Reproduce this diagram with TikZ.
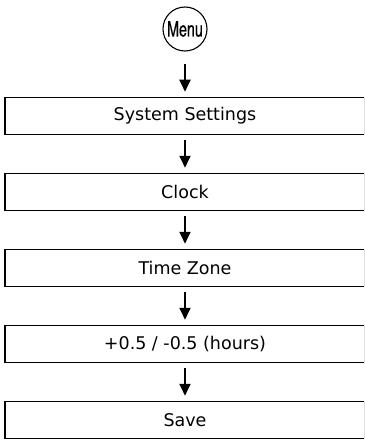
\documentclass[tikz,border=0pt]{standalone}
\usepackage{fontspec}
\setmainfont{DejaVu Sans}
\newfontfamily\menufont[FakeStretch=0.68,FakeBold=0.6]{TeX Gyre Heros}
\usetikzlibrary{arrows.meta}
\begin{document}
\begin{tikzpicture}[x=1pt,y=1pt,
  stepbox/.style={draw,line width=1.5pt,minimum width=360pt,minimum height=37pt,inner sep=0pt,font=\fontsize{17.5}{20}\selectfont},
  menucircle/.style={draw,circle,line width=1.1pt,minimum size=44pt,inner sep=0pt,font=\menufont\fontsize{21}{24}\selectfont},
  arr/.style={line width=1.8pt,-{Triangle[width=11pt,length=12pt]},shorten <=5pt,shorten >=5pt}]
\useasboundingbox (0,0) rectangle (364,-441);
\begin{scope}
\clip (0,0) rectangle (364,-441);
\node[menucircle] (menu) at (185,-29) {Menu};
\node[stepbox] (b1) at (185,-116) {System Settings};
\node[stepbox] (b2) at (185,-192) {Clock};
\node[stepbox] (b3) at (185,-268) {Time Zone};
\node[stepbox] (b4) at (185,-344) {+0.5 / -0.5 (hours)};
\node[stepbox] (b5) at (185,-420) {Save};
\draw[arr,shorten <=12pt] (menu.south) -- (b1.north);
\draw[arr] (b1.south) -- (b2.north);
\draw[arr] (b2.south) -- (b3.north);
\draw[arr] (b3.south) -- (b4.north);
\draw[arr] (b4.south) -- (b5.north);
\end{scope}
\end{tikzpicture}
\end{document}
